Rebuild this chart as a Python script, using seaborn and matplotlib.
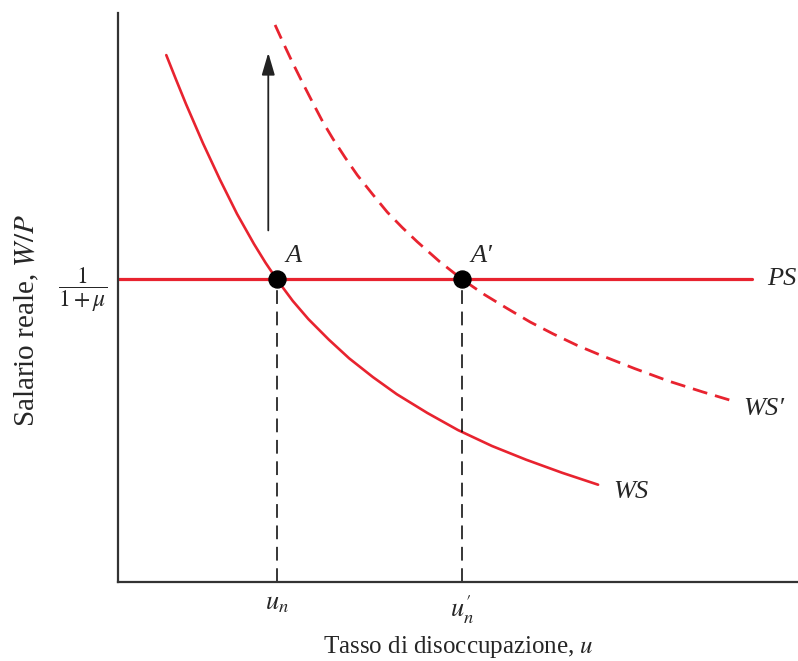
import numpy as np
import pandas as pd
import matplotlib
matplotlib.use('Agg')
import matplotlib.pyplot as plt
import seaborn as sns

sns.set_theme(style="white")
plt.rcParams['font.family'] = ['Liberation Serif', 'DejaVu Serif']
plt.rcParams['mathtext.fontset'] = 'stix'

# WS curve
ws_x = [0.71, 0.85, 1.00, 1.25, 1.50, 1.75, 2.00, 2.17, 2.34, 2.57, 2.80,
        3.10, 3.40, 3.75, 4.10, 4.55, 5.00, 5.50, 6.00, 6.53, 7.06]
ws_y = [9.26, 8.84, 8.40, 7.71, 7.07, 6.47, 5.94, 5.61, 5.31, 4.94, 4.62,
        4.26, 3.93, 3.60, 3.30, 2.97, 2.67, 2.39, 2.15, 1.92, 1.71]

# WS' curve (dashed, after the shift)
ws2_x = [2.31, 2.44, 2.57, 2.72, 2.87, 3.01, 3.16, 3.34, 3.52, 3.74, 3.96, 4.18,
         4.40, 4.73, 5.06, 5.39, 5.72, 6.06, 6.40, 6.75, 7.09, 7.60, 8.10, 8.60, 9.10]
ws2_y = [9.79, 9.45, 9.12, 8.76, 8.41, 8.09, 7.79, 7.46, 7.15, 6.82, 6.50, 6.23,
         5.98, 5.63, 5.32, 5.05, 4.81, 4.57, 4.36, 4.16, 3.99, 3.75, 3.53, 3.34, 3.16]

# PS line and equilibria
ps_level = 5.32
ps_x = [0.0, 9.32]
eq_x = [2.34, 5.06]
eq_labels = ['A', 'A\u2032']
tick_labels = ['$u_n$', r'$u_n^{\prime}$']
arrow_x = 2.21
arrow_y = [6.13, 9.35]

red = '#e8232f'

fig = plt.figure(figsize=(7.98, 6.61), dpi=100)
ax = fig.add_axes([118 / 798, 79 / 661, 680 / 798, 569 / 661])

sns.lineplot(x=ws_x, y=ws_y, ax=ax, color=red, lw=1.9, sort=False)
sns.lineplot(x=ws2_x, y=ws2_y, ax=ax, color=red, lw=2.0, sort=False)
ax.lines[-1].set_dashes((5.4, 2.9))
sns.lineplot(x=ps_x, y=[ps_level, ps_level], ax=ax, color=red, lw=2.3)

for xv in eq_x:
    ax.plot([xv, xv], [0, ps_level], color='black', lw=1.1, dashes=(9, 5))

sns.scatterplot(x=eq_x, y=[ps_level] * 2, ax=ax, color='black', s=150,
                edgecolor='black', zorder=5)

ax.annotate('', xy=(arrow_x, arrow_y[1]), xytext=(arrow_x, arrow_y[0]),
            arrowprops=dict(arrowstyle='-|>,head_width=0.22,head_length=0.75',
                            color='#222222', lw=1.3, mutation_scale=18))

lab = dict(fontsize=19, fontstyle='italic')
ax.text(eq_x[0] + 0.12, ps_level + 0.22, eq_labels[0], va='bottom', **lab)
ax.text(eq_x[1] + 0.12, ps_level + 0.22, eq_labels[1], va='bottom', **lab)
ax.text(ps_x[1] + 0.22, ps_level, 'PS', va='center', **lab)
ax.text(ws2_x[-1] + 0.1, ws2_y[-1] - 0.12, 'WS\u2032', va='center', **lab)
ax.text(ws_x[-1] + 0.22, ws_y[-1] - 0.12, 'WS', va='center', **lab)

ax.set_xlim(0, 10)
ax.set_ylim(0, 10)
ax.set_xticks(eq_x)
ax.set_xticklabels(tick_labels, fontsize=19)
ax.set_yticks([ps_level])
ax.set_yticklabels([r'$\dfrac{1}{1+\mu}$'], fontsize=17)
ax.tick_params(length=0, pad=8)

ax.set_xlabel('Tasso di disoccupazione, $u$', fontsize=18, labelpad=6)
ax.set_ylabel('Salario reale, $W/P$', fontsize=21)
ax.yaxis.set_label_coords(-0.113, 0.46)

for side in ['top', 'right']:
    ax.spines[side].set_visible(False)
for side in ['left', 'bottom']:
    ax.spines[side].set_color('#333333')
    ax.spines[side].set_linewidth(1.6)

fig.savefig('out.png', dpi=100)
